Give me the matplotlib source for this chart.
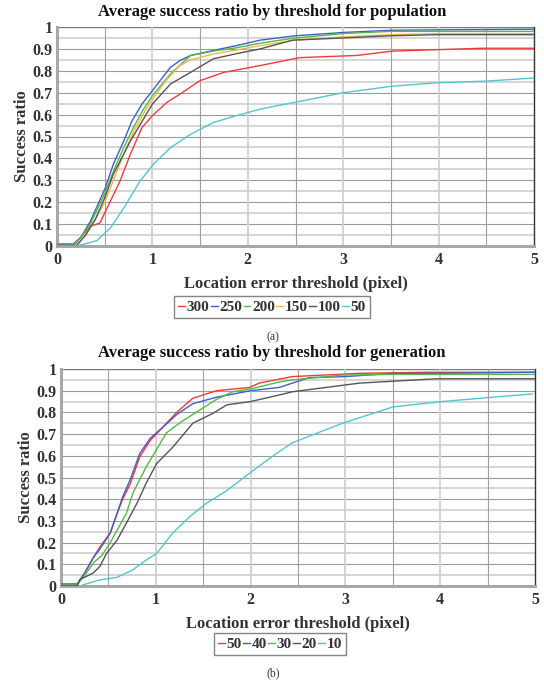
import matplotlib
matplotlib.use("Agg")
import matplotlib.pyplot as plt
from matplotlib.lines import Line2D
import numpy as np

plt.rcParams['font.family'] = ['Liberation Serif', 'DejaVu Serif']

# ---------------- data: (a) population ----------------
pop_labels = ["300", "250", "200", "150", "100", "50"]
pop_colors = ["#ee3b3b", "#3f5fc4", "#55b848", "#f6b64a", "#555555", "#52c6cf"]

pop300_x = [0, 0.17, 0.25, 0.35, 0.45, 0.56, 0.66, 0.77, 0.89, 1.0, 1.15, 1.29, 1.5, 1.75, 2.13, 2.54, 3.14, 3.52, 4.46, 5.0]
pop300_y = [0.01, 0.01, 0.04, 0.09, 0.105, 0.205, 0.296, 0.42, 0.54, 0.595, 0.655, 0.694, 0.755, 0.793, 0.824, 0.86, 0.87, 0.89, 0.903, 0.903]

pop250_x = [0, 0.18, 0.25, 0.35, 0.506, 0.59, 0.70, 0.785, 0.89, 1.0, 1.08, 1.19, 1.29, 1.40, 1.64, 1.88, 2.13, 2.5, 3.0, 3.5, 4.0, 5.0]
pop250_y = [0.005, 0.005, 0.04, 0.113, 0.265, 0.373, 0.48, 0.57, 0.648, 0.709, 0.755, 0.816, 0.847, 0.87, 0.893, 0.915, 0.94, 0.96, 0.975, 0.985, 0.987, 0.99]

pop200_x = [0, 0.18, 0.25, 0.35, 0.5, 0.6, 0.7, 0.8, 0.9, 1.0, 1.19, 1.4, 1.64, 1.88, 2.13, 2.5, 3.0, 3.5, 4.0, 5.0]
pop200_y = [0.01, 0.01, 0.04, 0.1, 0.24, 0.35, 0.45, 0.54, 0.62, 0.686, 0.786, 0.87, 0.89, 0.905, 0.926, 0.95, 0.97, 0.98, 0.98, 0.98]

pop150_x = [0, 0.2, 0.3, 0.4, 0.5, 0.6, 0.7, 0.8, 0.9, 1.0, 1.15, 1.29, 1.4, 1.64, 1.88, 2.13, 2.5, 3.0, 3.5, 4.0, 5.0]
pop150_y = [0.0, 0.0, 0.05, 0.12, 0.2, 0.31, 0.42, 0.52, 0.6, 0.67, 0.76, 0.824, 0.85, 0.877, 0.895, 0.915, 0.94, 0.955, 0.965, 0.97, 0.97]

pop100_x = [0, 0.2, 0.3, 0.4, 0.5, 0.59, 0.77, 1.0, 1.19, 1.40, 1.64, 1.88, 2.13, 2.47, 3.0, 3.5, 4.0, 5.0]
pop100_y = [0.0, 0.0, 0.05, 0.12, 0.22, 0.327, 0.48, 0.648, 0.74, 0.793, 0.855, 0.878, 0.90, 0.94, 0.95, 0.96, 0.965, 0.965]

pop50_x = [0, 0.2, 0.3, 0.42, 0.48, 0.56, 0.70, 0.87, 1.01, 1.19, 1.40, 1.64, 1.88, 2.13, 2.54, 3.0, 3.52, 3.98, 4.5, 5.0]
pop50_y = [0.0, 0.0, 0.01, 0.025, 0.05, 0.082, 0.174, 0.296, 0.373, 0.449, 0.51, 0.564, 0.595, 0.625, 0.66, 0.70, 0.73, 0.745, 0.753, 0.767]

# ---------------- data: (b) generation ----------------
gen_labels = ["50", "40", "30", "20", "10"]
gen_colors = ["#ee3b3b", "#3f5fc4", "#55b848", "#555555", "#52c6cf"]

gen50_x = [0, 0.17, 0.25, 0.34, 0.41, 0.52, 0.58, 0.65, 0.73, 0.83, 0.94, 1.07, 1.22, 1.39, 1.64, 1.99, 2.09, 2.44, 3.15, 3.85, 5.0]
gen50_y = [0.01, 0.01, 0.06, 0.13, 0.18, 0.245, 0.32, 0.40, 0.47, 0.595, 0.67, 0.73, 0.80, 0.865, 0.90, 0.915, 0.935, 0.965, 0.98, 0.985, 0.985]

gen40_x = [0, 0.17, 0.25, 0.34, 0.41, 0.52, 0.58, 0.65, 0.73, 0.83, 0.94, 1.07, 1.22, 1.39, 1.64, 2.0, 2.3, 2.62, 3.0, 3.5, 4.0, 5.0]
gen40_y = [0.005, 0.005, 0.06, 0.13, 0.17, 0.245, 0.32, 0.41, 0.49, 0.61, 0.68, 0.73, 0.79, 0.84, 0.87, 0.9, 0.915, 0.96, 0.965, 0.98, 0.98, 0.985]

gen30_x = [0, 0.17, 0.25, 0.35, 0.43, 0.52, 0.69, 0.76, 0.9, 1.01, 1.11, 1.28, 1.46, 1.64, 1.81, 2.02, 2.3, 2.44, 2.97, 3.5, 4.0, 5.0]
gen30_y = [0.005, 0.005, 0.05, 0.11, 0.14, 0.2, 0.335, 0.43, 0.55, 0.63, 0.705, 0.76, 0.81, 0.86, 0.895, 0.91, 0.94, 0.95, 0.972, 0.975, 0.975, 0.975]

gen20_x = [0, 0.17, 0.2, 0.34, 0.41, 0.48, 0.59, 0.69, 0.8, 0.9, 1.01, 1.18, 1.39, 1.6, 1.75, 2.0, 2.3, 2.44, 3.15, 3.96, 5.0]
gen20_y = [0.0, 0.0, 0.03, 0.06, 0.09, 0.15, 0.21, 0.29, 0.38, 0.475, 0.565, 0.64, 0.75, 0.795, 0.835, 0.85, 0.88, 0.895, 0.935, 0.955, 0.955]

gen10_x = [0.23, 0.41, 0.59, 0.76, 0.9, 1.01, 1.18, 1.36, 1.53, 1.75, 1.99, 2.27, 2.44, 2.97, 3.5, 4.02, 4.55, 4.97]
gen10_y = [0.005, 0.028, 0.04, 0.075, 0.12, 0.15, 0.245, 0.32, 0.38, 0.44, 0.52, 0.61, 0.66, 0.75, 0.825, 0.85, 0.87, 0.885]

x_ticks = [0, 1, 2, 3, 4, 5]
y_ticks = [0, 0.1, 0.2, 0.3, 0.4, 0.5, 0.6, 0.7, 0.8, 0.9, 1.0]
y_ticklabels = ["0", "0.1", "0.2", "0.3", "0.4", "0.5", "0.6", "0.7", "0.8", "0.9", "1"]

pop_series = [(pop300_x, pop300_y), (pop250_x, pop250_y), (pop200_x, pop200_y),
              (pop150_x, pop150_y), (pop100_x, pop100_y), (pop50_x, pop50_y)]
gen_series = [(gen50_x, gen50_y), (gen40_x, gen40_y), (gen30_x, gen30_y),
              (gen20_x, gen20_y), (gen10_x, gen10_y)]

W, H = 544, 684
fig = plt.figure(figsize=(W / 100, H / 100), dpi=100)
TXT = "#333333"


def style_axes(ax):
    ax.set_xlim(0, 5)
    ax.set_ylim(0, 1)
    for v in np.arange(0.05, 1.0, 0.1):
        ax.axhline(v, color="#d2d2d2", lw=1.3, zorder=0)
    for v in np.arange(0.1, 1.0, 0.1):
        ax.axhline(v, color="#9a9a9a", lw=0.8, zorder=0)
    ax.axhline(1.0, color="#7a7a7a", lw=1.0, zorder=0)
    for v in [1, 2, 3, 4]:
        ax.axvline(v, color="#d0d0d0", lw=1.3, zorder=0)
    for v in [0.5, 1.5, 2.5, 3.5, 4.5]:
        ax.axvline(v, color="#a0a0a0", lw=0.8, zorder=0)
    ax.set_xticks(x_ticks)
    ax.set_xticklabels([str(t) for t in x_ticks])
    ax.set_yticks(y_ticks)
    ax.set_yticklabels(y_ticklabels)
    ax.tick_params(length=0, labelsize=11.5, colors=TXT)
    ax.tick_params(axis="x", pad=4)
    ax.tick_params(axis="y", pad=3)
    for lab in ax.get_xticklabels() + ax.get_yticklabels():
        lab.set_fontweight("bold")
    ax.spines["top"].set_visible(False)
    ax.spines["left"].set_color("#a8a8a8")
    ax.spines["left"].set_linewidth(2.2)
    ax.spines["bottom"].set_color("#a8a8a8")
    ax.spines["bottom"].set_linewidth(2.2)
    ax.spines["right"].set_color("#333333")
    ax.spines["right"].set_linewidth(1.0)
    ax.set_ylabel("Success ratio", fontsize=12, fontweight="bold", color=TXT, labelpad=2)
    ax.set_xlabel("Location error threshold (pixel)", fontsize=12, fontweight="bold", color=TXT, labelpad=6)


def add_legend(labels, colors, cx, cy):
    handles = [Line2D([], [], color=c, lw=1.0) for c in colors]
    leg = fig.legend(handles, labels, loc="center", bbox_to_anchor=(cx / W, 1 - cy / H),
                     ncol=len(labels), frameon=True, fancybox=False, handlelength=0.45,
                     handletextpad=0.1, columnspacing=0.1, borderpad=0.25, borderaxespad=0,
                     prop={"weight": "bold", "size": 11})
    leg.get_frame().set_edgecolor("#666666")
    leg.get_frame().set_linewidth(1.0)
    for t in leg.get_texts():
        t.set_color(TXT)


# (a)
ax1 = fig.add_axes([57 / W, 1 - 246 / H, (534 - 57) / W, (246 - 27) / H])
style_axes(ax1)
for (xs, ys), c in zip(pop_series, pop_colors):
    ax1.plot(xs, ys, color=c, lw=1.0, zorder=3)
fig.text(0.5, 1 - 12 / H, "Average success ratio by threshold for population", ha="center", va="center",
         fontsize=12, fontweight="bold", color="#111111")
add_legend(pop_labels, pop_colors, 272, 307)
fig.text(273 / W, 1 - 337 / H, "(a)", ha="center", va="center", fontsize=8.5, color=TXT)

# (b)
ax2 = fig.add_axes([61 / W, 1 - 586 / H, (535 - 61) / W, (586 - 369) / H])
style_axes(ax2)
for (xs, ys), c in zip(gen_series, gen_colors):
    ax2.plot(xs, ys, color=c, lw=1.0, zorder=3)
fig.text(0.5, 1 - 353 / H, "Average success ratio by threshold for generation", ha="center", va="center",
         fontsize=12, fontweight="bold", color="#111111")
add_legend(gen_labels, gen_colors, 280, 644)
fig.text(273 / W, 1 - 673 / H, "(b)", ha="center", va="center", fontsize=8.5, color=TXT)

fig.savefig("out.png", dpi=100)
